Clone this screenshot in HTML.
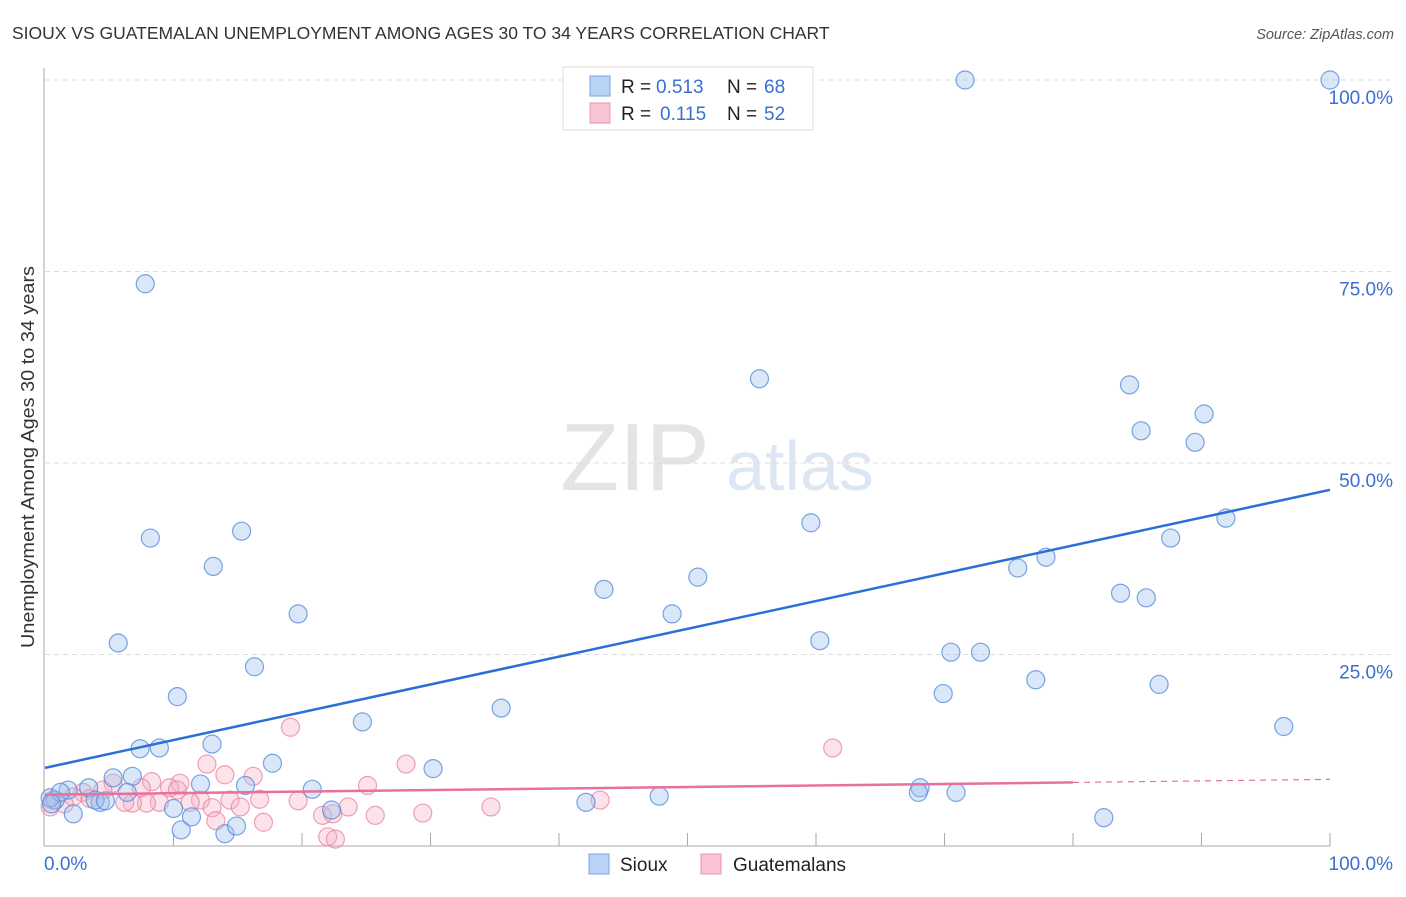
<!DOCTYPE html>
<html><head><meta charset="utf-8">
<style>
body{margin:0;background:#fff;font-family:"Liberation Sans",sans-serif;}
svg text{font-family:"Liberation Sans",sans-serif;}
</style></head>
<body>
<svg id="chart" width="1406" height="892" viewBox="0 0 1406 892" xmlns="http://www.w3.org/2000/svg">
<text x="12" y="39" font-size="17.5" fill="#333">SIOUX VS GUATEMALAN UNEMPLOYMENT AMONG AGES 30 TO 34 YEARS CORRELATION CHART</text>
<text x="1394" y="39" font-size="14.5" fill="#555" font-style="italic" text-anchor="end">Source: ZipAtlas.com</text>
<g>
<text x="635" y="490" font-size="96" fill="#e4e4e4" text-anchor="middle" font-family="Liberation Serif">ZIP</text>
<text x="800" y="490" font-size="70" fill="#dde6f3" text-anchor="middle">atlas</text>
</g>
<g id="grid"></g>
<g id="axes"></g>
<g id="marks"></g>
<text transform="translate(34,457) rotate(-90)" font-size="18.5" fill="#333" text-anchor="middle" textLength="382" lengthAdjust="spacingAndGlyphs">Unemployment Among Ages 30 to 34 years</text>
<g>
<rect x="563" y="67" width="250" height="63" fill="#fff" stroke="#ddd"/>
<rect x="590" y="76" width="20" height="20" fill="#b8d3f5" stroke="#7aa6df"/>
<rect x="590" y="103" width="20" height="20" fill="#f9c4d3" stroke="#eb93ad"/>
<text x="621" y="93" font-size="19" fill="#222">R =</text>
<text x="656" y="93" font-size="19" fill="#3b6fd0">0.513</text>
<text x="727" y="93" font-size="19" fill="#222">N =</text>
<text x="764" y="93" font-size="19" fill="#3b6fd0">68</text>
<text x="621" y="120" font-size="19" fill="#222">R =</text>
<text x="660" y="120" font-size="19" fill="#3b6fd0">0.115</text>
<text x="727" y="120" font-size="19" fill="#222">N =</text>
<text x="764" y="120" font-size="19" fill="#3b6fd0">52</text>
</g>
<g>
<rect x="589" y="854" width="20" height="20" fill="#b8d3f5" stroke="#7aa6df"/>
<text x="620" y="871" font-size="19" fill="#222">Sioux</text>
<rect x="701" y="854" width="20" height="20" fill="#f9c4d3" stroke="#eb93ad"/>
<text x="733" y="871" font-size="19" fill="#222">Guatemalans</text>
</g>
</svg>
<script>
const siouxX=[7.8,71.6,100,8.2,15.3,13.1,5.7,19.7,16.3,10.3,55.6,59.6,43.5,50.8,48.8,60.3,35.5,24.7,30.2,17.7,13.0,7.4,8.9,84.4,85.3,90.2,89.5,91.9,87.6,77.9,75.7,83.7,85.7,70.5,72.8,69.9,77.1,86.7,96.4,68.1,67.96,70.9,82.4,47.8,42.1,20.8,22.3,15.6,12.1,5.3,6.8,3.4,1.8,4.3,2.2,10.6,11.4,14.0,14.9,10.0,3.9,4.7,0.8,0.4,6.4,1.2,56.9,0.5];
const siouxY=[73.4,100,100,40.2,41.1,36.5,26.5,30.3,23.4,19.5,61.0,42.2,33.5,35.1,30.3,26.8,18.0,16.2,10.1,10.8,13.3,12.7,12.8,60.2,54.2,56.4,52.7,42.8,40.2,37.7,36.3,33.0,32.4,25.3,25.3,19.9,21.7,21.1,15.6,7.6,7.0,7.0,3.7,6.5,5.7,7.4,4.7,7.9,8.1,8.9,9.1,7.6,7.3,5.7,4.2,2.1,3.8,1.6,2.6,4.9,6.0,5.9,6.0,6.3,7.0,7.0,100,5.5];
const guatX=[19.1,12.6,14.0,16.2,28.1,25.1,8.3,10.5,5.3,7.5,9.7,10.3,4.5,2.95,16.7,19.7,14.4,12.1,11.3,8.9,7.9,6.8,6.2,15.2,13.0,23.6,34.7,29.4,25.7,21.6,22.4,13.3,17.0,22.0,22.6,0.6,0.4,2.2,61.3,43.2,1.5,3.5];
const guatY=[15.5,10.7,9.3,9.1,10.7,7.9,8.4,8.2,8.2,7.6,7.6,7.3,7.3,7.0,6.1,5.9,6.0,6.0,5.7,5.7,5.6,5.6,5.7,5.1,5.0,5.1,5.1,4.3,4.0,4.0,4.2,3.3,3.1,1.2,0.9,6.0,5.1,6.4,12.8,6.0,5.5,6.2];
const yTicks=[25,50,75,100];
const yTickLabels=["25.0%","50.0%","75.0%","100.0%"];
const xTicks=[10,20,30,40,50,60,70,80,90,100];
const siouxTrend=[10.2,46.5];
const guatTrend=[6.7,8.7];
const NS="http://www.w3.org/2000/svg";
const X=v=>45+v*12.85;
const Y=v=>846-v*7.66;
function mk(tag,attrs,parent){const e=document.createElementNS(NS,tag);for(const k in attrs)e.setAttribute(k,attrs[k]);document.getElementById(parent).appendChild(e);return e;}
yTicks.forEach((t,i)=>{
 const g=mk('line',{x1:45,x2:1393,y1:Y(t),y2:Y(t),stroke:'#ddd','stroke-dasharray':'5,4'},'grid');
 
 
 const l=mk('text',{x:1393,y:Y(t)+24,'font-size':19,fill:'#3b6fd0','text-anchor':'end'},'grid');
 l.textContent=yTickLabels[i];
 
 
});
const ax=mk('line',{x1:44,x2:44,y1:68,y2:846,stroke:'#aaa'},'axes');


const bx=mk('line',{x1:44,x2:1330,y1:846,y2:846,stroke:'#aaa'},'axes');


xTicks.forEach(t=>{const k=mk('line',{x1:X(t),x2:X(t),y1:833,y2:846,stroke:'#aaa'},'axes');
 
 });
const x0=mk('text',{x:44,y:870,'font-size':19,fill:'#3b6fd0'},'axes');x0.textContent='0.0%';


const x1=mk('text',{x:1393,y:870,'font-size':19,fill:'#3b6fd0','text-anchor':'end'},'axes');x1.textContent='100.0%';


guatX.forEach((v,i)=>{const c=mk('circle',{cx:X(v),cy:Y(guatY[i]),r:9,fill:'rgba(247,176,198,0.35)',stroke:'rgba(232,130,160,0.75)','stroke-width':1.2},'marks');
 
 });
siouxX.forEach((v,i)=>{const c=mk('circle',{cx:X(v),cy:Y(siouxY[i]),r:9,fill:'rgba(160,195,240,0.4)',stroke:'rgba(80,135,215,0.75)','stroke-width':1.2},'marks');
 
 });
const sl=mk('line',{x1:X(0),y1:Y(siouxTrend[0]),x2:X(100),y2:Y(siouxTrend[1]),stroke:'#2a6fd6','stroke-width':2.5},'marks');


const gm=guatTrend[0]+(guatTrend[1]-guatTrend[0])*0.8;
const gl=mk('line',{x1:X(0),y1:Y(guatTrend[0]),x2:X(80),y2:Y(gm),stroke:'#e8709a','stroke-width':2.5},'marks');


const gd=mk('line',{x1:X(80),y1:Y(gm),x2:X(100),y2:Y(guatTrend[1]),stroke:'#e8709a','stroke-width':1.2,'stroke-dasharray':'6,5'},'marks');


</script>
</body></html>
